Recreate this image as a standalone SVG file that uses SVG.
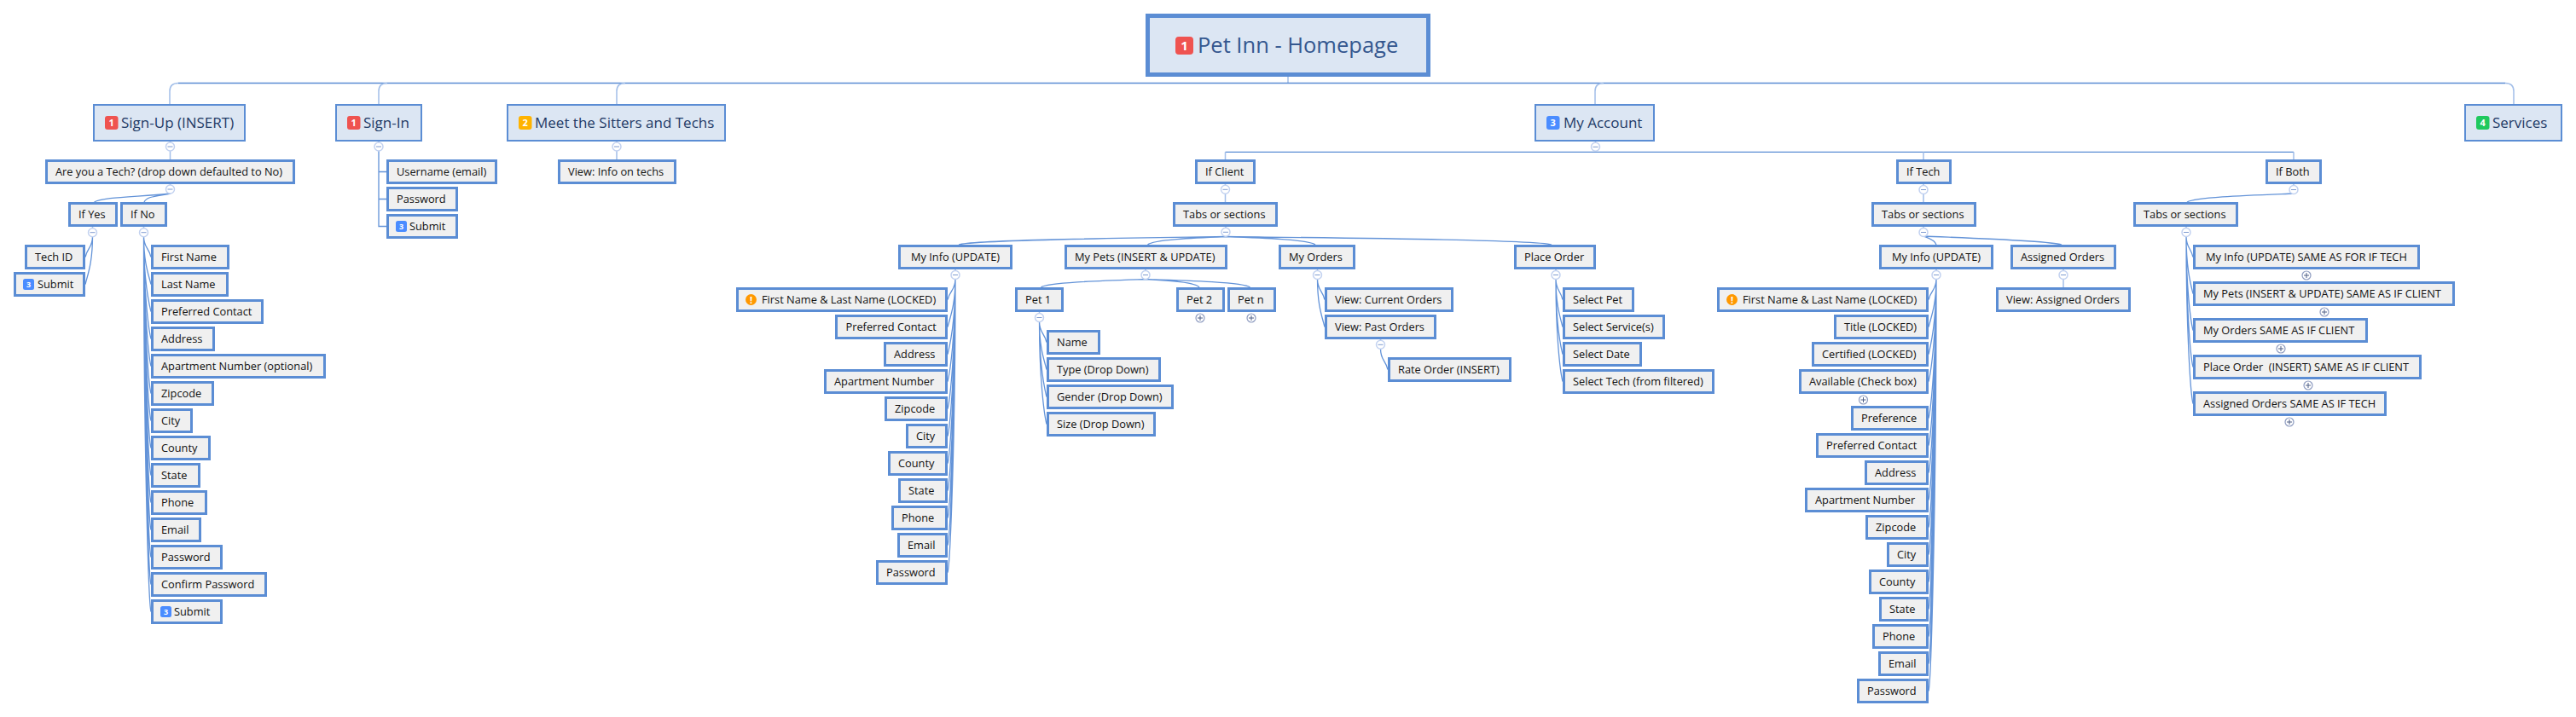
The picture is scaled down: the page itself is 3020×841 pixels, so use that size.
<svg xmlns="http://www.w3.org/2000/svg" width="3020" height="841" viewBox="0 0 3020 841">
<style>
text{font-family:"Open Sans","Noto Sans","Liberation Sans",sans-serif}
.s{fill:#f0f0f0;stroke:#5b8dd4;stroke-width:3}
.m{fill:#dce6f3;stroke:#5b8dd4;stroke-width:2}
.r{fill:#dce6f3;stroke:#5b8dd4;stroke-width:5}
.t{font-size:12.8px;fill:#111}
.l{font-size:17px;fill:#1f3a66}
.rt{font-size:25.5px;fill:#34578f}
.d{fill:#fff;font-weight:700;text-anchor:middle}
.d9{font-size:9px}.d11{font-size:11px}.d15{font-size:15px}
.c{fill:none;stroke:#6393d8;stroke-width:1.3}
.h{fill:none;stroke:#5b8dd4;stroke-width:1.3}
.v{fill:none;stroke:#a3bfe9;stroke-width:1.5}
.bc{fill:#fff;stroke:#c3d2f0;stroke-width:1.5}
.bm{fill:none;stroke:#7f9bd0;stroke-width:1}
.pc{fill:#fff;stroke:#8e9cc0;stroke-width:1.2}
.pm{fill:none;stroke:#4f5f85;stroke-width:1}
</style>
<defs>
<g id="minus"><circle class="bc" r="5"/><path class="bm" d="M-3 0H3"/></g>
<g id="plus"><circle class="pc" r="5"/><path class="pm" d="M-3 0H3M0 -3V3"/></g>
</defs>
<g id="connectors">
<path class="v" d="M1510 90V97.5"/>
<path class="h" d="M209 97.5H2937"/>
<path class="v" d="M199 122V107Q199 97.5 209 97.5M444 122V107Q444 97.5 454 97.5M723 122V107Q723 97.5 733 97.5M1870 122V107Q1870 97.5 1880 97.5M2947 122V107Q2947 97.5 2937 97.5"/>
<path class="v" d="M199.5 166V187M199.5 216V227M444 166V177M723 166V187M1870.5 166V178M1436.5 216V237M1437 266V277M1343 316V327M2255 216V237M2255 266V277M2270 316V327M2419 316V337M2689 216V227M2563 266V277M108.5 266V277M168.5 266V277M1120 316V327M1544.5 316V327M1824 316V327M1218.5 366V377M1618.5 398V409"/>
<path class="h" d="M1436.5 178.3H2689"/>
<path class="v" d="M1436.5 178.3V187M2255 178.3V187M2689 178.3V187"/>
<path class="c" d="M444 177V265.5H453M444 201.5H453M444 233.5H453"/>
<path class="c" d="M200 227C160 231 120 231 110.5 237M200 227C185 230 172 230 169 237"/>
<path class="c" d="M108.5 277C108.5 290.5 103 289.5 100 301.5M108.5 277C108.5 308 103 321.5 100 333.5"/>
<path class="c" d="M168.5 277C168.5 290.5 174 289.5 177 301.5M168.5 277C168.5 308 174 321.5 177 333.5M168.5 277C168.5 326 174 353.5 177 365.5M168.5 277C168.5 343 174 385.5 177 397.5M168.5 277C168.5 361 174 417.5 177 429.5M168.5 277C168.5 378.5 174 449.5 177 461.5M168.5 277C168.5 396 174 481.5 177 493.5M168.5 277C168.5 414 174 513.5 177 525.5M168.5 277C168.5 431 174 545.5 177 557.5M168.5 277C168.5 449 174 577.5 177 589.5M168.5 277C168.5 466.5 174 609.5 177 621.5M168.5 277C168.5 484 174 641.5 177 653.5M168.5 277C168.5 502 174 673.5 177 685.5M168.5 277C168.5 519 174 705.5 177 717.5"/>
<path class="c" d="M1437 277.5C1340 279 1140 281 1124 287M1437 277.5C1400 279 1352 281 1345.5 287M1437 277.5C1480 279 1535 281 1542 287M1437 277.5C1560 279 1800 281 1819 287"/>
<path class="c" d="M1343 327.5C1300 329 1228 331 1220.5 337M1343 327.5C1370 329 1402 331 1406 337M1343 327.5C1390 329 1458 331 1465.5 337"/>
<path class="c" d="M1120 327C1120 340.5 1114 339.5 1111 351.5M1120 327C1120 358 1114 371.5 1111 383.5M1120 327C1120 376 1114 403.5 1111 415.5M1120 327C1120 393 1114 435.5 1111 447.5M1120 327C1120 411 1114 467.5 1111 479.5M1120 327C1120 428.5 1114 499.5 1111 511.5M1120 327C1120 446 1114 531.5 1111 543.5M1120 327C1120 464 1114 563.5 1111 575.5M1120 327C1120 481 1114 595.5 1111 607.5M1120 327C1120 499 1114 627.5 1111 639.5M1120 327C1120 516.5 1114 659.5 1111 671.5"/>
<path class="c" d="M1218.5 377C1218.5 390.5 1224 389.5 1227 401.5M1218.5 377C1218.5 408 1224 421.5 1227 433.5M1218.5 377C1218.5 426 1224 453.5 1227 465.5M1218.5 377C1218.5 443 1224 485.5 1227 497.5"/>
<path class="c" d="M1544.5 327C1544.5 340.5 1550 339.5 1553 351.5M1544.5 327C1544.5 358 1550 371.5 1553 383.5M1618.5 409C1618.5 422.5 1624 421.5 1627 433.5"/>
<path class="c" d="M1824 327C1824 340.5 1829 339.5 1832 351.5M1824 327C1824 358 1829 371.5 1832 383.5M1824 327C1824 376 1829 403.5 1832 415.5M1824 327C1824 393 1829 435.5 1832 447.5"/>
<path class="c" d="M2255 277C2260 279 2268 281 2270 287M2255 277C2300 279 2400 282 2417 287"/>
<path class="c" d="M2270 327C2270 340.5 2264 339.5 2261 351.5M2270 327C2270 358 2264 371.5 2261 383.5M2270 327C2270 376 2264 403.5 2261 415.5M2270 327C2270 393 2264 435.5 2261 447.5M2270 327C2270 417 2264 478.5 2261 490.5M2270 327C2270 434.5 2264 510.5 2261 522.5M2270 327C2270 452 2264 542.5 2261 554.5M2270 327C2270 470 2264 574.5 2261 586.5M2270 327C2270 487 2264 606.5 2261 618.5M2270 327C2270 505 2264 638.5 2261 650.5M2270 327C2270 522.5 2264 670.5 2261 682.5M2270 327C2270 540 2264 702.5 2261 714.5M2270 327C2270 558 2264 734.5 2261 746.5M2270 327C2270 575 2264 766.5 2261 778.5M2270 327C2270 593 2264 798.5 2261 810.5"/>
<path class="c" d="M2689 227C2640 229 2575 231 2564 237"/>
<path class="c" d="M2563 277C2563 290.5 2568 289.5 2571 301.5M2563 277C2563 314 2568 332.5 2571 344.5M2563 277C2563 338 2568 375.5 2571 387.5M2563 277C2563 361.5 2568 418.5 2571 430.5M2563 277C2563 385 2568 461.5 2571 473.5"/>
</g>
<g id="root"><rect class="r" x="1345.5" y="18.5" width="329" height="69"/><rect x="1378" y="43" width="21" height="21" rx="4" fill="#ef5350"/><text class="d d15" x="1388.5" y="59">1</text><text class="rt" x="1404" y="62">Pet Inn - Homepage</text></g>
<g id="sign-up"><rect class="m" x="110" y="123" width="177" height="42"/><rect x="123" y="136" width="15.5" height="16" rx="3" fill="#ef5350"/><text class="d d11" x="130.7" y="148">1</text><text class="l" x="142" y="150">Sign-Up (INSERT)</text></g>
<g id="sign-in"><rect class="m" x="394" y="123" width="100" height="42"/><rect x="407" y="136" width="15.5" height="16" rx="3" fill="#ef5350"/><text class="d d11" x="414.7" y="148">1</text><text class="l" x="426" y="150">Sign-In</text></g>
<g id="meet"><rect class="m" x="595" y="123" width="255" height="42"/><rect x="608" y="136" width="15.5" height="16" rx="3" fill="#ffb300"/><text class="d d11" x="615.7" y="148">2</text><text class="l" x="627" y="150">Meet the Sitters and Techs</text></g>
<g id="my-account"><rect class="m" x="1800" y="123" width="139" height="42"/><rect x="1813" y="136" width="15.5" height="16" rx="3" fill="#4a8cff"/><text class="d d11" x="1820.7" y="148">3</text><text class="l" x="1833" y="150">My Account</text></g>
<g id="services"><rect class="m" x="2890" y="123" width="113" height="42"/><rect x="2903" y="136" width="15.5" height="16" rx="3" fill="#1fc95e"/><text class="d d11" x="2910.7" y="148">4</text><text class="l" x="2922" y="150">Services</text></g>
<g id="su-tech"><rect class="s" x="54.5" y="188.5" width="290" height="26"/><text class="t" x="65" y="206">Are you a Tech? (drop down defaulted to No)</text></g>
<g id="su-yes"><rect class="s" x="81.5" y="238.5" width="55" height="26"/><text class="t" x="92" y="256">If Yes</text></g>
<g id="su-no"><rect class="s" x="142.5" y="238.5" width="52" height="26"/><text class="t" x="153" y="256">If No</text></g>
<g id="su-techid"><rect class="s" x="30.5" y="288.5" width="68" height="26"/><text class="t" x="41" y="306">Tech ID</text></g>
<g id="su-submit1"><rect class="s" x="17.5" y="320.5" width="81" height="26"/><rect x="27" y="327" width="13" height="13" rx="2.5" fill="#4a8cff"/><text class="d d9" x="33.5" y="337">3</text><text class="t" x="44" y="338">Submit</text></g>
<g id="su-first"><rect class="s" x="178.5" y="288.5" width="89" height="26"/><text class="t" x="189" y="306">First Name</text></g>
<g id="su-last"><rect class="s" x="178.5" y="320.5" width="88" height="26"/><text class="t" x="189" y="338">Last Name</text></g>
<g id="su-pref"><rect class="s" x="178.5" y="352.5" width="129" height="26"/><text class="t" x="189" y="370">Preferred Contact</text></g>
<g id="su-addr"><rect class="s" x="178.5" y="384.5" width="72" height="26"/><text class="t" x="189" y="402">Address</text></g>
<g id="su-apt"><rect class="s" x="178.5" y="416.5" width="202" height="26"/><text class="t" x="189" y="434">Apartment Number (optional)</text></g>
<g id="su-zip"><rect class="s" x="178.5" y="448.5" width="71" height="26"/><text class="t" x="189" y="466">Zipcode</text></g>
<g id="su-city"><rect class="s" x="178.5" y="480.5" width="46" height="26"/><text class="t" x="189" y="498">City</text></g>
<g id="su-county"><rect class="s" x="178.5" y="512.5" width="67" height="26"/><text class="t" x="189" y="530">County</text></g>
<g id="su-state"><rect class="s" x="178.5" y="544.5" width="55" height="26"/><text class="t" x="189" y="562">State</text></g>
<g id="su-phone"><rect class="s" x="178.5" y="576.5" width="63" height="26"/><text class="t" x="189" y="594">Phone</text></g>
<g id="su-email"><rect class="s" x="178.5" y="608.5" width="56" height="26"/><text class="t" x="189" y="626">Email</text></g>
<g id="su-pass"><rect class="s" x="178.5" y="640.5" width="81" height="26"/><text class="t" x="189" y="658">Password</text></g>
<g id="su-confirm"><rect class="s" x="178.5" y="672.5" width="133" height="26"/><text class="t" x="189" y="690">Confirm Password</text></g>
<g id="su-submit2"><rect class="s" x="178.5" y="704.5" width="81" height="26"/><rect x="188" y="711" width="13" height="13" rx="2.5" fill="#4a8cff"/><text class="d d9" x="194.5" y="721">3</text><text class="t" x="204" y="722">Submit</text></g>
<g id="si-user"><rect class="s" x="454.5" y="188.5" width="127" height="26"/><text class="t" x="465" y="206">Username (email)</text></g>
<g id="si-pass"><rect class="s" x="454.5" y="220.5" width="81" height="26"/><text class="t" x="465" y="238">Password</text></g>
<g id="si-submit"><rect class="s" x="454.5" y="252.5" width="81" height="26"/><rect x="464" y="259" width="13" height="13" rx="2.5" fill="#4a8cff"/><text class="d d9" x="470.5" y="269">3</text><text class="t" x="480" y="270">Submit</text></g>
<g id="meet-view"><rect class="s" x="655.5" y="188.5" width="136" height="26"/><text class="t" x="666" y="206">View: Info on techs</text></g>
<g id="if-client"><rect class="s" x="1402.5" y="188.5" width="68" height="26"/><text class="t" x="1413" y="206">If Client</text></g>
<g id="c-tabs"><rect class="s" x="1376.5" y="238.5" width="120" height="26"/><text class="t" x="1387" y="256">Tabs or sections</text></g>
<g id="c-info"><rect class="s" x="1054.5" y="288.5" width="131" height="26"/><text class="t" x="1068" y="306">My Info (UPDATE)</text></g>
<g id="c-pets"><rect class="s" x="1249.5" y="288.5" width="188" height="26"/><text class="t" x="1260" y="306">My Pets (INSERT &amp; UPDATE)</text></g>
<g id="c-orders"><rect class="s" x="1500.5" y="288.5" width="87" height="26"/><text class="t" x="1511" y="306">My Orders</text></g>
<g id="c-place"><rect class="s" x="1776.5" y="288.5" width="93" height="26"/><text class="t" x="1787" y="306">Place Order</text></g>
<g id="ci-name"><rect class="s" x="864.5" y="338.5" width="245" height="26"/><ellipse cx="880.5" cy="351.5" rx="6.5" ry="6.5" fill="#ff9800"/><text class="d d11" x="880.5" y="355.5">!</text><text class="t" x="893" y="356">First Name &amp; Last Name (LOCKED)</text></g>
<g id="ci-pref"><rect class="s" x="980.5" y="370.5" width="129" height="26"/><text class="t" x="991.5" y="388">Preferred Contact</text></g>
<g id="ci-addr"><rect class="s" x="1037.5" y="402.5" width="72" height="26"/><text class="t" x="1048" y="420">Address</text></g>
<g id="ci-apt"><rect class="s" x="967.5" y="434.5" width="142" height="26"/><text class="t" x="978" y="452">Apartment Number</text></g>
<g id="ci-zip"><rect class="s" x="1038.5" y="466.5" width="71" height="26"/><text class="t" x="1049" y="484">Zipcode</text></g>
<g id="ci-city"><rect class="s" x="1063.5" y="498.5" width="46" height="26"/><text class="t" x="1074" y="516">City</text></g>
<g id="ci-county"><rect class="s" x="1042.5" y="530.5" width="67" height="26"/><text class="t" x="1053" y="548">County</text></g>
<g id="ci-state"><rect class="s" x="1054.5" y="562.5" width="55" height="26"/><text class="t" x="1065" y="580">State</text></g>
<g id="ci-phone"><rect class="s" x="1046.5" y="594.5" width="63" height="26"/><text class="t" x="1057" y="612">Phone</text></g>
<g id="ci-email"><rect class="s" x="1053.5" y="626.5" width="56" height="26"/><text class="t" x="1064" y="644">Email</text></g>
<g id="ci-pass"><rect class="s" x="1028.5" y="658.5" width="81" height="26"/><text class="t" x="1039" y="676">Password</text></g>
<g id="pet1"><rect class="s" x="1191.5" y="338.5" width="54" height="26"/><text class="t" x="1202" y="356">Pet 1</text></g>
<g id="pet2"><rect class="s" x="1380.5" y="338.5" width="54" height="26"/><text class="t" x="1391" y="356">Pet 2</text></g>
<g id="petn"><rect class="s" x="1440.5" y="338.5" width="54" height="26"/><text class="t" x="1451" y="356">Pet n</text></g>
<g id="p-name"><rect class="s" x="1228.5" y="388.5" width="60" height="26"/><text class="t" x="1239" y="406">Name</text></g>
<g id="p-type"><rect class="s" x="1228.5" y="420.5" width="131" height="26"/><text class="t" x="1239" y="438">Type (Drop Down)</text></g>
<g id="p-gender"><rect class="s" x="1228.5" y="452.5" width="146" height="26"/><text class="t" x="1239" y="470">Gender (Drop Down)</text></g>
<g id="p-size"><rect class="s" x="1228.5" y="484.5" width="125" height="26"/><text class="t" x="1239" y="502">Size (Drop Down)</text></g>
<g id="o-current"><rect class="s" x="1554.5" y="338.5" width="148" height="26"/><text class="t" x="1565" y="356">View: Current Orders</text></g>
<g id="o-past"><rect class="s" x="1554.5" y="370.5" width="128" height="26"/><text class="t" x="1565" y="388">View: Past Orders</text></g>
<g id="o-rate"><rect class="s" x="1628.5" y="420.5" width="142" height="26"/><text class="t" x="1639" y="438">Rate Order (INSERT)</text></g>
<g id="pl-pet"><rect class="s" x="1833.5" y="338.5" width="81" height="26"/><text class="t" x="1844" y="356">Select Pet</text></g>
<g id="pl-service"><rect class="s" x="1833.5" y="370.5" width="117" height="26"/><text class="t" x="1844" y="388">Select Service(s)</text></g>
<g id="pl-date"><rect class="s" x="1833.5" y="402.5" width="90" height="26"/><text class="t" x="1844" y="420">Select Date</text></g>
<g id="pl-tech"><rect class="s" x="1833.5" y="434.5" width="175" height="26"/><text class="t" x="1844" y="452">Select Tech (from filtered)</text></g>
<g id="if-tech"><rect class="s" x="2224.5" y="188.5" width="62" height="26"/><text class="t" x="2235" y="206">If Tech</text></g>
<g id="t-tabs"><rect class="s" x="2195.5" y="238.5" width="120" height="26"/><text class="t" x="2206" y="256">Tabs or sections</text></g>
<g id="t-info"><rect class="s" x="2204.5" y="288.5" width="131" height="26"/><text class="t" x="2218" y="306">My Info (UPDATE)</text></g>
<g id="t-assigned"><rect class="s" x="2358.5" y="288.5" width="121" height="26"/><text class="t" x="2369" y="306">Assigned Orders</text></g>
<g id="t-view"><rect class="s" x="2341.5" y="338.5" width="155" height="26"/><text class="t" x="2352" y="356">View: Assigned Orders</text></g>
<g id="ti-name"><rect class="s" x="2014.5" y="338.5" width="245" height="26"/><ellipse cx="2030.5" cy="351.5" rx="6.5" ry="6.5" fill="#ff9800"/><text class="d d11" x="2030.5" y="355.5">!</text><text class="t" x="2043" y="356">First Name &amp; Last Name (LOCKED)</text></g>
<g id="ti-title"><rect class="s" x="2151.5" y="370.5" width="108" height="26"/><text class="t" x="2162" y="388">Title (LOCKED)</text></g>
<g id="ti-cert"><rect class="s" x="2125.5" y="402.5" width="134" height="26"/><text class="t" x="2136" y="420">Certified (LOCKED)</text></g>
<g id="ti-avail"><rect class="s" x="2110.5" y="434.5" width="149" height="26"/><text class="t" x="2121" y="452">Available (Check box)</text></g>
<g id="ti-prefer"><rect class="s" x="2171.5" y="477.5" width="88" height="26"/><text class="t" x="2182" y="495">Preference</text></g>
<g id="ti-pref"><rect class="s" x="2130.5" y="509.5" width="129" height="26"/><text class="t" x="2141" y="527">Preferred Contact</text></g>
<g id="ti-addr"><rect class="s" x="2187.5" y="541.5" width="72" height="26"/><text class="t" x="2198" y="559">Address</text></g>
<g id="ti-apt"><rect class="s" x="2117.5" y="573.5" width="142" height="26"/><text class="t" x="2128" y="591">Apartment Number</text></g>
<g id="ti-zip"><rect class="s" x="2188.5" y="605.5" width="71" height="26"/><text class="t" x="2199" y="623">Zipcode</text></g>
<g id="ti-city"><rect class="s" x="2213.5" y="637.5" width="46" height="26"/><text class="t" x="2224" y="655">City</text></g>
<g id="ti-county"><rect class="s" x="2192.5" y="669.5" width="67" height="26"/><text class="t" x="2203" y="687">County</text></g>
<g id="ti-state"><rect class="s" x="2204.5" y="701.5" width="55" height="26"/><text class="t" x="2215" y="719">State</text></g>
<g id="ti-phone"><rect class="s" x="2196.5" y="733.5" width="63" height="26"/><text class="t" x="2207" y="751">Phone</text></g>
<g id="ti-email"><rect class="s" x="2203.5" y="765.5" width="56" height="26"/><text class="t" x="2214" y="783">Email</text></g>
<g id="ti-pass"><rect class="s" x="2178.5" y="797.5" width="81" height="26"/><text class="t" x="2189" y="815">Password</text></g>
<g id="if-both"><rect class="s" x="2657.5" y="188.5" width="63" height="26"/><text class="t" x="2668" y="206">If Both</text></g>
<g id="b-tabs"><rect class="s" x="2502.5" y="238.5" width="120" height="26"/><text class="t" x="2513" y="256">Tabs or sections</text></g>
<g id="b-info"><rect class="s" x="2572.5" y="288.5" width="263" height="26"/><text class="t" x="2586" y="306">My Info (UPDATE) SAME AS FOR IF TECH</text></g>
<g id="b-pets"><rect class="s" x="2572.5" y="331.5" width="304" height="26"/><text class="t" x="2583" y="349">My Pets (INSERT &amp; UPDATE) SAME AS IF CLIENT</text></g>
<g id="b-orders"><rect class="s" x="2572.5" y="374.5" width="202" height="26"/><text class="t" x="2583" y="392">My Orders SAME AS IF CLIENT</text></g>
<g id="b-place"><rect class="s" x="2572.5" y="417.5" width="265" height="26"/><text class="t" x="2583" y="435" xml:space="preserve">Place Order  (INSERT) SAME AS IF CLIENT</text></g>
<g id="b-assigned"><rect class="s" x="2572.5" y="460.5" width="224" height="26"/><text class="t" x="2583" y="478">Assigned Orders SAME AS IF TECH</text></g>
<g id="toggles">
<use href="#minus" x="199.5" y="172"/><use href="#minus" x="444" y="172"/><use href="#minus" x="723" y="172"/><use href="#minus" x="1870.5" y="172.3"/>
<use href="#minus" x="199.5" y="222"/><use href="#minus" x="108.5" y="272.7"/><use href="#minus" x="168.5" y="272.7"/>
<use href="#minus" x="1436.5" y="222.3"/><use href="#minus" x="1437" y="272.3"/><use href="#minus" x="1120" y="322.5"/><use href="#minus" x="1343" y="322.5"/><use href="#minus" x="1544.5" y="322.5"/><use href="#minus" x="1824" y="322.5"/><use href="#minus" x="1218.5" y="372.5"/><use href="#minus" x="1618.5" y="404.3"/>
<use href="#minus" x="2255" y="222.5"/><use href="#minus" x="2255" y="272.5"/><use href="#minus" x="2270" y="322.5"/><use href="#minus" x="2419" y="322.5"/>
<use href="#minus" x="2689" y="222.5"/><use href="#minus" x="2563" y="272.5"/>
<use href="#plus" x="1407" y="373"/><use href="#plus" x="1467" y="373"/><use href="#plus" x="2184.5" y="469"/>
<use href="#plus" x="2704" y="323"/><use href="#plus" x="2725" y="366"/><use href="#plus" x="2674" y="409"/><use href="#plus" x="2706" y="452"/><use href="#plus" x="2684" y="495"/>
</g>
</svg>
